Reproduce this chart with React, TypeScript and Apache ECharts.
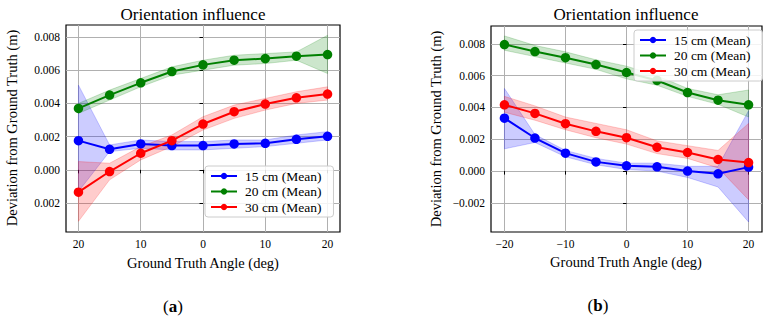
import React, { useEffect, useRef } from "react";
import * as echarts from "echarts";

const angles = [-20, -15, -10, -5, 0, 5, 10, 15, 20];
const seriesNames = ["15 cm (Mean)", "20 cm (Mean)", "30 cm (Mean)"];
const xTicks = [-20, -10, 0, 10, 20];
const yTicks = [-0.002, 0, 0.002, 0.004, 0.006, 0.008];

// Panel (a)
const a15Mean = [0.00176, 0.00124, 0.00156, 0.00146, 0.00146, 0.00156, 0.0016, 0.00184, 0.00202];
const a15Upper = [0.0051, 0.0015, 0.0018, 0.0017, 0.0017, 0.0018, 0.0018, 0.0021, 0.0023];
const a15Lower = [-0.0013, 0.0011, 0.0013, 0.0012, 0.0012, 0.0013, 0.0014, 0.0016, 0.0018];
const a20Mean = [0.0037, 0.0045, 0.00524, 0.00592, 0.00632, 0.0066, 0.0067, 0.00684, 0.00694];
const a20Upper = [0.004, 0.0048, 0.0055, 0.0062, 0.0066, 0.0069, 0.007, 0.0071, 0.0081];
const a20Lower = [0.0034, 0.0042, 0.005, 0.0057, 0.006, 0.0063, 0.0064, 0.0066, 0.0058];
const a30Mean = [-0.00134, -0.0001, 0.001, 0.00176, 0.00276, 0.0035, 0.00396, 0.00434, 0.00456];
const a30Upper = [0.0005, 0.0004, 0.0014, 0.0021, 0.0032, 0.0039, 0.0043, 0.0047, 0.005];
const a30Lower = [-0.0031, -0.0006, 0.0006, 0.0014, 0.0024, 0.0031, 0.0036, 0.004, 0.0042];

// Panel (b)
const b15Mean = [0.00333, 0.00208, 0.00113, 0.00058, 0.00033, 0.00027, 0.0, -0.00017, 0.00025];
const b15Upper = [0.0052, 0.0023, 0.0013, 0.0008, 0.0005, 0.0005, 0.0003, 0.0003, 0.0038];
const b15Lower = [0.0014, 0.0018, 0.0009, 0.0004, 0.0001, 0.0, -0.0004, -0.001, -0.0032];
const b20Mean = [0.00796, 0.00752, 0.00713, 0.0067, 0.0062, 0.0057, 0.00494, 0.00446, 0.00417];
const b20Upper = [0.0085, 0.0079, 0.0075, 0.007, 0.0066, 0.006, 0.0052, 0.0048, 0.0051];
const b20Lower = [0.0076, 0.0072, 0.0068, 0.0064, 0.0058, 0.0054, 0.0047, 0.0042, 0.0034];
const b30Mean = [0.00417, 0.00363, 0.00298, 0.0025, 0.0021, 0.0015, 0.00117, 0.00073, 0.00054];
const b30Upper = [0.0047, 0.0041, 0.0034, 0.003, 0.0026, 0.0019, 0.0016, 0.0013, 0.003];
const b30Lower = [0.0037, 0.0032, 0.0026, 0.0021, 0.0017, 0.0011, 0.0008, 0.0002, -0.0018];

const colors = ["#0000ff", "#008000", "#ff0000"];
const bandColors = ["rgba(0,0,255,0.2)", "rgba(0,128,0,0.2)", "rgba(255,0,0,0.2)"];
const FONT = "Liberation Serif";

export default function App() {
  const ref = useRef<HTMLDivElement>(null);
  useEffect(() => {
    if (!ref.current) return;
    const chart = echarts.init(ref.current, null, { renderer: "svg" });

    const panels = [
      { means: [a15Mean, a20Mean, a30Mean], uppers: [a15Upper, a20Upper, a30Upper], lowers: [a15Lower, a20Lower, a30Lower], absLabels: true, yMin: -0.00374, yMax: 0.00872 },
      { means: [b15Mean, b20Mean, b30Mean], uppers: [b15Upper, b20Upper, b30Upper], lowers: [b15Lower, b20Lower, b30Lower], absLabels: false, yMin: -0.00383, yMax: 0.009125 },
    ];

    const grids = [
      { left: 66, top: 25, width: 274, height: 207 },
      { left: 491, top: 26, width: 271, height: 206 },
    ].map((g) => ({ ...g, show: true, borderColor: "#000", borderWidth: 1.2, backgroundColor: "transparent", containLabel: false }));

    const fmtX = (abs: boolean) => (v: number) => {
      const r = Math.round(v);
      if (abs) return String(Math.abs(r));
      return r < 0 ? "\u2212" + Math.abs(r) : String(r);
    };
    const fmtY = (abs: boolean) => (v: number) => {
      const s = Math.abs(v).toFixed(3);
      if (abs) return s;
      return v < -1e-9 ? "\u2212" + s : s;
    };

    const xAxis = panels.map((p, i) => ({
      type: "value",
      gridIndex: i,
      min: i === 0 ? -22 : -22.2,
      max: i === 0 ? 22 : 22.2,
      axisLine: { show: false },
      axisTick: { show: true, length: 3.5, lineStyle: { color: "#000" }, customValues: xTicks },
      axisLabel: { customValues: xTicks, formatter: fmtX(p.absLabels), color: "#000", fontFamily: FONT, fontSize: 11.5, margin: 6 },
      splitLine: { show: true, lineStyle: { color: "#b0b0b0", width: 1 } },
    }));
    const yAxis = panels.map((p, i) => ({
      type: "value",
      gridIndex: i,
      min: p.yMin,
      max: p.yMax,
      axisLine: { show: false },
      axisTick: { show: true, length: 3.5, lineStyle: { color: "#000" }, customValues: yTicks },
      axisLabel: { customValues: yTicks, formatter: fmtY(p.absLabels), color: "#000", fontFamily: FONT, fontSize: 11.5, margin: 6 },
      splitLine: { show: true, lineStyle: { color: "#b0b0b0", width: 1 } },
    }));

    const series: any[] = [];
    panels.forEach((p, pi) => {
      for (let k = 0; k < 3; k++) {
        const up = p.uppers[k];
        const lo = p.lowers[k];
        series.push({
          type: "custom",
          xAxisIndex: pi,
          yAxisIndex: pi,
          z: 1,
          silent: true,
          data: [[0, 0]],
          renderItem: (params: any, api: any) => {
            const pts: number[][] = [];
            for (let i = 0; i < angles.length; i++) pts.push(api.coord([angles[i], up[i]]));
            for (let i = angles.length - 1; i >= 0; i--) pts.push(api.coord([angles[i], lo[i]]));
            return {
              type: "polygon",
              shape: { points: pts },
              style: { fill: bandColors[k], stroke: bandColors[k], lineWidth: 1 },
            };
          },
        });
      }
      for (let k = 0; k < 3; k++) {
        series.push({
          type: "line",
          name: seriesNames[k],
          xAxisIndex: pi,
          yAxisIndex: pi,
          z: 3,
          data: angles.map((a, i) => [a, p.means[k][i]]),
          symbol: "circle",
          symbolSize: 9.5,
          showSymbol: true,
          lineStyle: { color: colors[k], width: 2 },
          itemStyle: { color: colors[k] },
        });
      }
    });

    const legendBase = {
      orient: "vertical",
      data: seriesNames,
      backgroundColor: "rgba(255,255,255,0.85)",
      borderColor: "#cccccc",
      borderWidth: 1,
      borderRadius: 3,
      itemWidth: 26,
      itemHeight: 8,
      itemGap: 1.5,
      padding: [3, 12, 3, 5],
      textStyle: { fontFamily: FONT, fontSize: 13.5, color: "#000", padding: [0, 0, 0, 3] },
      selectedMode: false,
    };

    const texts: any[] = [];
    const addText = (text: string, x: number, y: number, fontSize: number, rotation = 0, rich?: any) => {
      texts.push({
        type: "text",
        x,
        y,
        rotation,
        style: { text, x: 0, y: 0, align: "center", verticalAlign: "middle", fontFamily: FONT, fontSize, fill: "#000", rich },
      });
    };
    addText("Orientation influence", 193, 14, 17);
    addText("Orientation influence", 626, 14, 17);
    addText("Ground Truth Angle (deg)", 203, 263, 14.5);
    addText("Ground Truth Angle (deg)", 626, 262, 14.5);
    addText("Deviation from Ground Truth (m)", 12, 128, 14.5, Math.PI / 2);
    addText("Deviation from Ground Truth (m)", 436, 129, 14.5, Math.PI / 2);
    const rich = { b: { fontWeight: "bold", fontFamily: FONT, fontSize: 17 }, n: { fontFamily: FONT, fontSize: 17 } };
    addText("{n|(}{b|a}{n|)}", 173, 306, 17, 0, rich);
    addText("{n|(}{b|b}{n|)}", 598, 305, 17, 0, rich);

    chart.setOption({
      animation: false,
      grid: grids,
      xAxis,
      yAxis,
      legend: [
        { ...legendBase, left: 205, top: 166 },
        { ...legendBase, left: 634, top: 30 },
      ],
      series,
      graphic: texts,
    });
    return () => chart.dispose();
  }, []);
  return <div ref={ref} style={{ position: "fixed", left: 0, top: 0, width: 769, height: 319, background: "#fff" }} />;
}
